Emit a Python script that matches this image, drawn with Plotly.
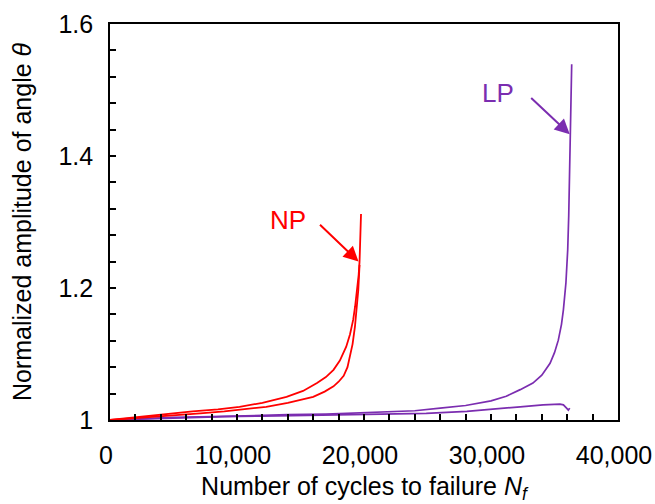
import plotly.graph_objects as go

# Normalized amplitude of angle theta versus number of cycles
np1_cycles = [0, 1000, 2500, 4500, 6500, 8500, 10200, 12000, 13900, 15200, 16300,
              17000, 17600, 18100, 18600, 18900, 19150, 19300, 19470, 19580, 19650,
              19720, 19765]
np1_theta = [1.000, 1.002, 1.005, 1.010, 1.013, 1.016, 1.020, 1.026, 1.035, 1.044,
             1.056, 1.065, 1.076, 1.090, 1.111, 1.130, 1.152, 1.172, 1.197, 1.220,
             1.240, 1.275, 1.312]

np2_cycles = [0, 1500, 3500, 5500, 7100, 9000, 10500, 12300, 14000, 15200, 16000,
              16900, 17600, 18000, 18400, 18700, 18900, 19100, 19290, 19430, 19550,
              19650]
np2_theta = [1.000, 1.002, 1.005, 1.007, 1.010, 1.013, 1.016, 1.020, 1.026, 1.031,
             1.035, 1.043, 1.051, 1.058, 1.067, 1.080, 1.096, 1.115, 1.142, 1.168,
             1.197, 1.235]

lp1_cycles = [0, 2000, 5000, 8000, 11000, 14000, 17000, 20000, 22000, 24000, 26000,
              28000, 30000, 31200, 32300, 33300, 34000, 34650, 35000, 35300, 35550,
              35700, 35900, 36040, 36120, 36170, 36220, 36280, 36354]
lp1_theta = [1.000, 1.002, 1.004, 1.005, 1.007, 1.008, 1.009, 1.011, 1.012, 1.014,
             1.018, 1.022, 1.029, 1.036, 1.046, 1.056, 1.068, 1.086, 1.102, 1.121,
             1.145, 1.167, 1.208, 1.258, 1.309, 1.360, 1.435, 1.490, 1.539]

lp2_cycles = [0, 3000, 6000, 9000, 12000, 15000, 18000, 20000, 22000, 24900, 28100,
              30200, 32300, 34100, 35000, 35430, 35700, 35830, 35950, 36090, 36200]
lp2_theta = [1.000, 1.002, 1.003, 1.005, 1.006, 1.007, 1.008, 1.009, 1.009, 1.010,
             1.013, 1.016, 1.020, 1.023, 1.024, 1.024, 1.023, 1.021, 1.018, 1.015,
             1.018]

x_ticks = [0, 10000, 20000, 30000, 40000]
x_tick_text = ["0", "10,000", "20,000", "30,000", "40,000"]
y_ticks = [1.0, 1.2, 1.4, 1.6]
y_tick_text = ["1", "1.2", "1.4", "1.6"]

RED = "#FF0000"
PURPLE = "#7B2DB0"
FONT = "Liberation Sans, Arial, sans-serif"

fig = go.Figure()
for xs, ys in [(lp1_cycles, lp1_theta), (lp2_cycles, lp2_theta)]:
    fig.add_trace(go.Scatter(x=xs, y=ys, mode="lines",
                             line=dict(color=PURPLE, width=1.7), showlegend=False))
for xs, ys in [(np1_cycles, np1_theta), (np2_cycles, np2_theta)]:
    fig.add_trace(go.Scatter(x=xs, y=ys, mode="lines",
                             line=dict(color=RED, width=1.8), showlegend=False))

axis_common = dict(showline=True, linecolor="black", linewidth=1.6, mirror=True,
                   ticks="inside", ticklen=6, tickwidth=1.5, tickcolor="black",
                   showgrid=False, zeroline=False, automargin=False,
                   ticklabeloverflow="allow",
                   tickfont=dict(family=FONT, size=25, color="black"))

fig.update_xaxes(range=[0, 40000], tickvals=x_ticks, ticktext=x_tick_text,
                 ticklabelstandoff=12, ticklabelshift=-4,
                 minor=dict(dtick=2000, ticks="inside", ticklen=6, tickwidth=1.5,
                            tickcolor="black", showgrid=False),
                 title=dict(text="Number of cycles to failure <i>N</i><sub><i>f</i></sub>",
                            font=dict(family=FONT, size=25, color="black"), standoff=18),
                 **axis_common)
fig.update_yaxes(range=[1.0, 1.6], tickvals=y_ticks, ticktext=y_tick_text,
                 ticklabelstandoff=10,
                 minor=dict(dtick=0.04, ticks="inside", ticklen=6, tickwidth=1.5,
                            tickcolor="black", showgrid=False),
                 title=dict(text="Normalized amplitude of angle <i>θ</i>",
                            font=dict(family=FONT, size=25, color="black"), standoff=20),
                 **axis_common)

# Labels with arrows pointing to the curves
fig.add_annotation(x=19570, y=1.240, ax=16417, ay=1.298, axref="x", ayref="y",
                   text="", showarrow=True, arrowhead=2, arrowsize=1.5,
                   arrowwidth=2, arrowcolor=RED, standoff=0)
fig.add_annotation(x=14029, y=1.303, text="NP", showarrow=False,
                   font=dict(family=FONT, size=26, color=RED))
fig.add_annotation(x=36200, y=1.433, ax=33047, ay=1.490, axref="x", ayref="y",
                   text="", showarrow=True, arrowhead=2, arrowsize=1.5,
                   arrowwidth=2, arrowcolor=PURPLE, standoff=0)
fig.add_annotation(x=30541, y=1.495, text="LP", showarrow=False,
                   font=dict(family=FONT, size=26, color=PURPLE))

fig.update_layout(width=655, height=504, plot_bgcolor="white", paper_bgcolor="white",
                  margin=dict(l=110, r=37, t=24, b=84), showlegend=False)

fig.write_html("out.html")
